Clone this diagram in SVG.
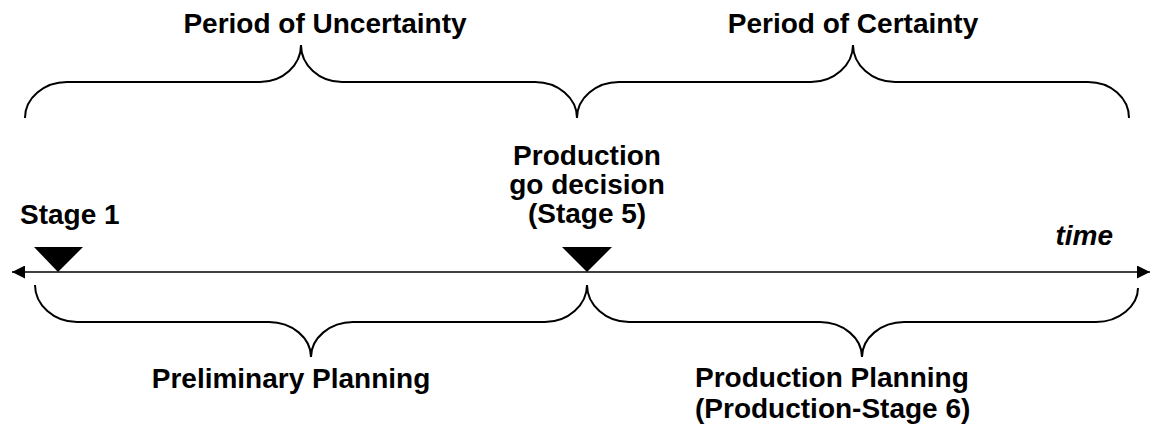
<svg xmlns="http://www.w3.org/2000/svg" width="1151" height="431" viewBox="0 0 1151 431">
<style>
.t{font-family:"Liberation Sans",Arial,sans-serif;font-weight:bold;font-size:28px;fill:#000}
.c{text-anchor:middle}
.brace{fill:none;stroke:#000;stroke-width:2}
.axis{fill:none;stroke:#000;stroke-width:1.5}
.tri{fill:#000}
</style>
<defs>
<marker id="ah" viewBox="0 0 10 10" refX="10" refY="5" markerWidth="15" markerHeight="13" markerUnits="userSpaceOnUse" orient="auto-start-reverse">
<path d="M0,0 L10,5 L0,10 Z" fill="#000"/>
</marker>
</defs>
<g id="connectors">
<line class="axis" x1="12" y1="272" x2="1150" y2="272" marker-start="url(#ah)" marker-end="url(#ah)"/>
</g>
<g id="brace-uncertainty">
<path class="brace" d="M25,118 C25,98 44,82 67,82 L260,82 C283,82 301,65 301,45 C301,65 319,82 342,82 L535,82 C558,82 577,98 577,118"/>
<text class="t" x="325" y="33" text-anchor="middle">Period of Uncertainty</text>
</g>
<g id="brace-certainty">
<path class="brace" d="M577,118 C577,98 596,82 619,82 L811,82 C834,82 853,65 853,45 C853,65 872,82 895,82 L1088,82 C1111,82 1129,98 1129,118"/>
<text class="t" x="853" y="33" text-anchor="middle">Period of Certainty</text>
</g>
<g id="stage1">
<polygon class="tri" points="34,247 83,247 58,272"/>
<text class="t" x="20" y="224">Stage 1</text>
</g>
<g id="stage5">
<polygon class="tri" points="562,247 612,247 587,272"/>
<text class="t c" x="587" y="165">Production</text>
<text class="t c" x="587" y="194">go decision</text>
<text class="t c" x="587" y="223">(Stage 5)</text>
</g>
<g id="time">
<text class="t" x="1113" y="245" text-anchor="end" font-style="italic">time</text>
</g>
<g id="brace-preliminary">
<path class="brace" d="M35,285 C35,305 54,322 77,322 L269,322 C292,322 311,338 311,357 C311,338 330,322 353,322 L545,322 C568,322 587,305 587,285"/>
<text class="t c" x="291" y="388">Preliminary Planning</text>
</g>
<g id="brace-production">
<path class="brace" d="M587,285 C587,305 606,322 629,322 L820,322 C843,322 862,338 862,357 C862,338 881,322 904,322 L1096,322 C1119,322 1138,306 1138,288"/>
<text class="t" x="695" y="387">Production Planning</text>
<text class="t" x="695" y="418">(Production-Stage 6)</text>
</g>
</svg>
